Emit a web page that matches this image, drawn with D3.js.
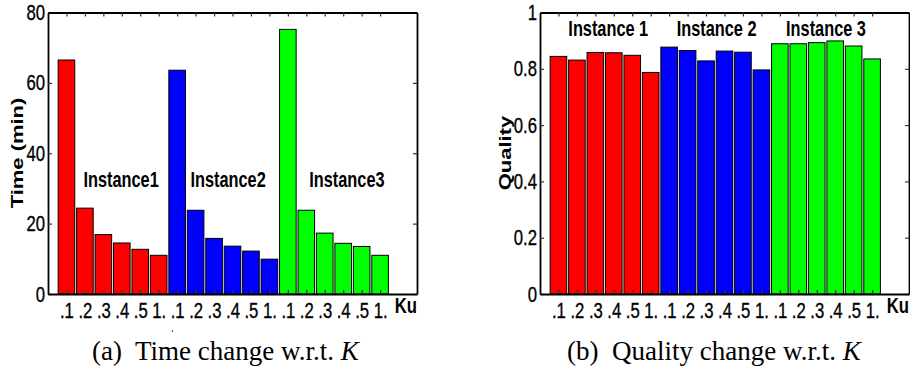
<!DOCTYPE html>
<meta charset="utf-8">
<script src="https://d3js.org/d3.v7.min.js"></script>
<style>
    body { margin: 0; background: #fff; }
    text { font-family: "Liberation Sans", Arial, sans-serif; }
    .caption { font-family: "Liberation Serif", "Times New Roman", serif; font-size: 27px; }
</style>
<body>
<div id="chart"></div>
<script>

    // data
    var kLabels = [".1", ".2", ".3", ".4", ".5", "1."];
    var groupColors = ["#ff0000", "#0000ff", "#00ff00"];

    var timeValues = [
        [66.5, 24.4, 16.9, 14.5, 12.7, 11.0],
        [63.6, 23.8, 15.8, 13.6, 12.2, 9.9],
        [75.2, 23.8, 17.3, 14.4, 13.5, 11.0]
    ];
    var timeTicks = [0, 20, 40, 60, 80];
    var timeInstances = ["Instance1", "Instance2", "Instance3"];

    var qualityValues = [
        [0.844, 0.831, 0.858, 0.857, 0.848, 0.787],
        [0.877, 0.865, 0.828, 0.863, 0.859, 0.796],
        [0.889, 0.889, 0.893, 0.899, 0.881, 0.835]
    ];
    var qualityTicks = [0, 0.2, 0.4, 0.6, 0.8, 1];
    var qualityInstances = ["Instance 1", "Instance 2", "Instance 3"];

    var W = 910, H = 380;
    var svg = d3.select("#chart").append("svg")
        .attr("width", W)
        .attr("height", H);
    svg.append("rect").attr("width", W).attr("height", H).attr("fill", "#fff");

    var SX = 0.76; // horizontal squeeze of the original figure text

    function panel(opt) {
        var x = d3.scaleLinear().domain([0, 20]).range([opt.left, opt.left + 369]);
        var y = d3.scaleLinear().domain([0, opt.yMax]).range([294, 12.5]);
        var g = svg.append("g");

        // flatten bars
        var bars = [];
        opt.values.forEach(function (grp, gi) {
            grp.forEach(function (v, ki) {
                bars.push({ pos: gi * 6 + ki + 1, value: v, color: groupColors[gi] });
            });
        });

        g.selectAll(".bar")
            .data(bars)
            .enter().append("rect")
            .attr("class", "bar")
            .attr("x", function (d) { return x(d.pos - 0.45); })
            .attr("width", function (d) { return x(d.pos + 0.45) - x(d.pos - 0.45); })
            .attr("y", function (d) { return y(d.value); })
            .attr("height", function (d) { return y(0) - y(d.value); })
            .attr("fill", function (d) { return d.color; })
            .attr("stroke", "#000")
            .attr("stroke-width", 1);

        var positions = d3.range(1, 19);

        // left axis
        var ga = g.append("g")
            .attr("transform", "translate(" + opt.left + ",0)")
            .call(d3.axisLeft(y).tickValues(opt.ticks).tickSize(-4).tickSizeOuter(0).tickPadding(4)
                .tickFormat(function (d) { return String(d); }));
        ga.selectAll("text")
            .attr("x", 0)
            .attr("transform", "translate(-3,0) scale(" + SX + ",1)")
            .attr("font-size", 22).attr("fill", "#000")
            .attr("stroke", "#000").attr("stroke-width", 0.35);

        // right axis (ticks only)
        g.append("g")
            .attr("transform", "translate(" + x(20) + ",0)")
            .call(d3.axisRight(y).tickValues(opt.ticks).tickSize(-4).tickSizeOuter(0).tickFormat(""));

        // top axis (ticks only)
        g.append("g")
            .attr("transform", "translate(0," + y(opt.yMax) + ")")
            .call(d3.axisTop(x).tickValues(positions).tickSize(-4).tickSizeOuter(0).tickFormat(""));

        // bottom axis
        var gb = g.append("g")
            .attr("transform", "translate(0," + y(0) + ")")
            .call(d3.axisBottom(x).tickValues(positions).tickSize(-4).tickSizeOuter(0).tickPadding(9)
                .tickFormat(function (d) { return kLabels[(d - 1) % 6]; }));
        gb.selectAll("text")
            .attr("y", 0)
            .attr("transform", "translate(0,8) scale(" + SX + ",1)")
            .attr("font-size", 22).attr("fill", "#000")
            .attr("stroke", "#000").attr("stroke-width", 0.35);

        g.selectAll(".domain").attr("stroke", "#000").attr("stroke-width", 1.8);
        g.selectAll(".tick line").attr("stroke", "#333").attr("stroke-width", 1.2);

        // Ku label
        g.append("text")
            .attr("transform", "translate(" + x(20) + ",313) scale(" + SX + ",1)")
            .attr("text-anchor", "end")
            .style("font-size", "22px").style("font-weight", "bold")
            .text("Ku");

        // y label
        g.append("text")
            .attr("transform", "translate(" + opt.yLabelX + ",153) rotate(-90) scale(1," + SX + ")")
            .attr("text-anchor", "middle")
            .style("font-size", "22px").style("font-weight", "bold")
            .text(opt.yLabel);

        // instance labels
        opt.instances.forEach(function (name, i) {
            g.append("text")
                .attr("transform", "translate(" + x(opt.labelPos[i]) + "," + y(opt.labelY) + ") scale(0.76,1)")
                .attr("text-anchor", "middle")
                .style("font-size", "21.5px").style("font-weight", "bold")
                .text(name);
        });

        // caption
        var cap = svg.append("text")
            .attr("class", "caption")
            .attr("x", opt.capX)
            .attr("y", 360)
            .attr("xml:space", "preserve");
        cap.append("tspan").text(opt.caption[0] + "  " + opt.caption[1] + " ");
        cap.append("tspan").style("font-style", "italic").text("K");
    }

    panel({
        left: 48, yMax: 80, ticks: timeTicks, values: timeValues,
        instances: timeInstances, labelPos: [3.96, 9.76, 16.2], labelY: 30.4,
        yLabel: "Time (min)", yLabelX: 23,
        caption: ["(a)", "Time change w.r.t."], capX: 92
    });

    panel({
        left: 540, yMax: 1, ticks: qualityTicks, values: qualityValues,
        instances: qualityInstances, labelPos: [3.7, 9.57, 15.5], labelY: 0.916,
        yLabel: "Quality", yLabelX: 511,
        caption: ["(b)", "Quality change w.r.t."], capX: 567
    });

    // stray dot in the original figure
    svg.append("circle").attr("cx", 172.5).attr("cy", 331).attr("r", 0.7).attr("fill", "#000");

</script>
</body>
